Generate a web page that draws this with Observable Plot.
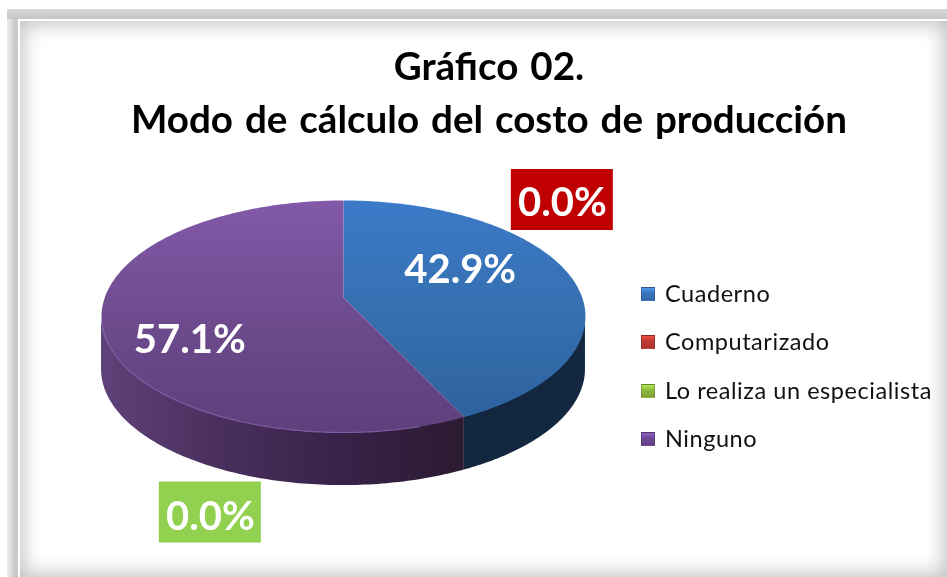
<!DOCTYPE html>
<html lang="es"><head><meta charset="utf-8">
<script src="https://cdn.jsdelivr.net/npm/d3@7"></script>
<script src="https://cdn.jsdelivr.net/npm/@observablehq/plot@0.6"></script>
<style>
html,body{margin:0;padding:0;width:947px;height:577px;overflow:hidden;background:#fff;font-family:Lato,"Open Sans",sans-serif}
#band{position:absolute;left:7px;top:9px;width:960px;height:590px;background:linear-gradient(90deg,#eee 0,#c9c9c9 8px),#c9c9c9}
#bandTop{position:absolute;left:7px;top:9px;width:960px;height:10px;background:linear-gradient(180deg,#d6d6d6,#c6c6c6)}
#inner{position:absolute;left:18px;top:19px;right:0;bottom:0;box-sizing:border-box;border-left:2.5px solid #fff;border-top:2.5px solid #fff;background:#fff;box-shadow:inset 0 0 20px 3px #c0c0c0}
#title{position:absolute;left:0;width:978px;top:39px;text-align:center;font-weight:700;font-size:38.6px;line-height:53px;color:#000;word-spacing:2.5px;filter:blur(.35px)}
#title div{white-space:nowrap}
#chart{position:absolute;left:0;top:160px;filter:blur(.4px)}
#legend{position:absolute;left:641px;top:0;font-size:23.5px;color:#111;letter-spacing:.55px;filter:blur(.3px)}
.item{position:absolute;left:0;white-space:nowrap;line-height:30px}
.sw{position:absolute;left:0;top:9px;width:14px;height:14px;box-sizing:border-box;border:1px solid rgba(0,0,0,.18)}
.lab{position:absolute;left:24px;top:0}
</style></head><body>
<div id="band"></div><div id="bandTop"></div><div id="inner"></div>
<div id="title"><div>Gráfico 02.</div><div>Modo de cálculo del costo de producción</div></div>
<div id="chart"></div><div id="legend"></div>
<script>
const categories = ["Cuaderno","Computarizado","Lo realiza un especialista","Ninguno"];
const values = [42.9, 0, 0, 57.1];
const valueLabels = ["42.9%","0.0%","0.0%","57.1%"];
const swatchColors = ["#3a74bb","#bd3a36","#8cb43f","#6d4a96"];
const boxColors = [null,"#c00000","#92d050",null];
const labelDx = [-20, 98, -254, -11];
const labelDy = [-15, -217, 95.5, 26];
const textShift = [2, 3, 5, 1];
const legendTops = [278, 326, 375, 423];

const k = 0.1638, depth = 0.47, W = 640, H = 390, ux = 238.7, uy = 112.9, ax = 343, ay = 137;
const total = d3.sum(values);
const rad = d => d * Math.PI / 180;
const project = (deg, rho = 1) => {
  const u = rho * Math.sin(rad(deg)), v = rho * Math.cos(rad(deg)), s = 1 + k * v;
  return {x: u / s, y: v / s};
};
const arcPts = (a, b, n = 120) => d3.range(n + 1).map(i => project(a + (b - a) * i / n));
let cum = 0;
const sectors = values.map((v, i) => {
  const start = cum / total * 360; cum += v;
  const end = cum / total * 360;
  return {i, start, end, mid: (start + end) / 2};
});
const right = Math.acos(-k) * 180 / Math.PI, left = 360 - right;

const gradient = (id, stops, horiz) => {
  const g = d3.create("svg:linearGradient").attr("id", id)
    .attr("x1", 0).attr("y1", 0).attr("x2", horiz ? 1 : 0).attr("y2", horiz ? 0 : 1);
  stops.forEach(([o, c]) => g.append("stop").attr("offset", o).attr("stop-color", c));
  return g.node();
};
const defs = () => {
  const d = d3.create("svg:defs");
  [gradient("topBlue", [[0,"#3c7ac8"],[.6,"#356ead"],[1,"#2d619f"]]),
   gradient("topPurple", [[0,"#8259a8"],[.55,"#6c4a8c"],[1,"#5e407c"]]),
   gradient("wallPurple", [[0,"#5f4279"],[.3,"#4b305f"],[.65,"#38234a"],[1,"#2b1a31"]], true),
   gradient("wallBlue", [[0,"#13263f"],[1,"#132840"]], true)
  ].forEach(g => d.node().append(g));
  return d.node();
};
const wall = (a, b) => arcPts(a, b).map(p => ({x: p.x, y1: p.y, y2: p.y - depth}));
const sectorPoly = s => [{x: 0, y: 0}, ...arcPts(s.start, s.end, 200)];
const blue = sectors[0], purple = sectors[3];

const labelMarks = sectors.flatMap((s, i) => {
  const anchor = project(s.mid, values[i] > 0 ? 0.6 : 1);
  const marks = [];
  if (boxColors[i]) marks.push(Plot.rect([anchor], {
    x1: d => d.x - 51 / ux, x2: d => d.x + 51 / ux,
    y1: d => d.y - 30.5 / uy, y2: d => d.y + 30.5 / uy,
    fill: boxColors[i], dx: labelDx[i], dy: labelDy[i]}));
  marks.push(Plot.text([anchor], {x: "x", y: "y", text: () => valueLabels[i],
    fill: "#fff", fontSize: 40, fontWeight: 700, fontFamily: "Lato",
    dx: labelDx[i], dy: labelDy[i] + textShift[i]}));
  return marks;
});

const chart = Plot.plot({
  width: W, height: H, margin: 0,
  style: {background: "transparent"},
  x: {axis: null, domain: [-ax / ux, (W - ax) / ux], range: [0, W]},
  y: {axis: null, domain: [-(H - ay) / uy, ay / uy], range: [H, 0]},
  marks: [
    defs,
    Plot.areaY(wall(left, purple.start), {x: "x", y1: "y1", y2: "y2", fill: "url(#wallPurple)"}),
    Plot.areaY(wall(blue.end, right), {x: "x", y1: "y1", y2: "y2", fill: "url(#wallBlue)"}),
    Plot.line(sectorPoly(blue), {x: "x", y: "y", fill: "url(#topBlue)", stroke: "none"}),
    Plot.line(sectorPoly(purple), {x: "x", y: "y", fill: "url(#topPurple)", stroke: "none"}),
    Plot.line(arcPts(purple.start + 10, left - 3), {x: "x", y: "y", stroke: "#7d5ba2", strokeWidth: 1.2}),
    ...labelMarks
  ]
});
document.getElementById("chart").append(chart);

const legend = d3.select("#legend");
categories.forEach((c, i) => {
  const it = legend.append("div").attr("class", "item").style("top", legendTops[i] + "px");
  it.append("span").attr("class", "sw").style("background",
    `linear-gradient(180deg, ${d3.color(swatchColors[i]).brighter(.7)} 0, ${swatchColors[i]} 45%, ${d3.color(swatchColors[i]).darker(.3)} 100%)`);
  it.append("span").attr("class", "lab").text(c);
});
</script></body></html>
